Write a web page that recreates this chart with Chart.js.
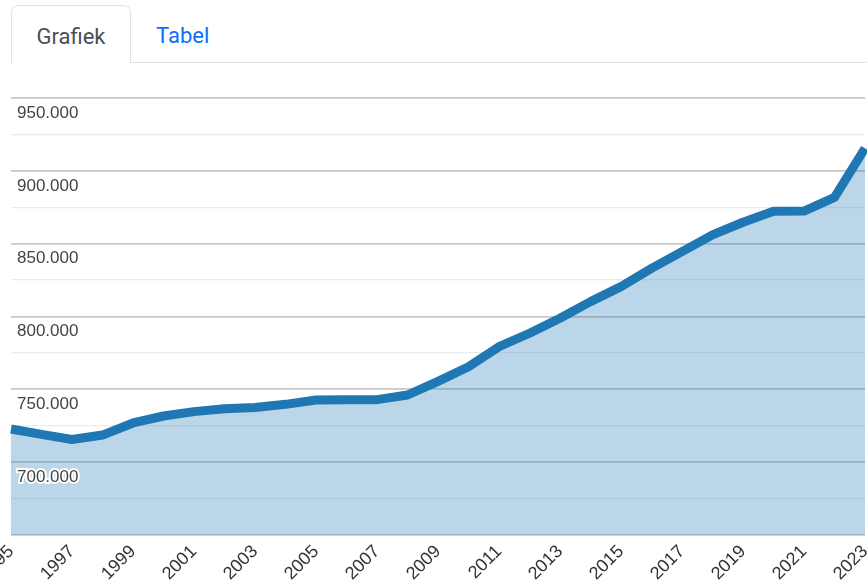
<!DOCTYPE html>
<html lang="nl">
<head>
    <meta charset="UTF-8">
    <title>Grafiek</title>
    <script src="https://cdn.jsdelivr.net/npm/chart.js"></script>
    <style>
        html, body { margin: 0; padding: 0; background: #fff; width: 867px; height: 583px; overflow: hidden; }
        .tabs { position: absolute; left: 11px; top: 5px; right: 0; height: 57px; border-bottom: 1px solid #dee2e6; font-family: "Roboto", "Liberation Sans", sans-serif; font-size: 22px; }
        .tab { position: absolute; top: 0; height: 57px; line-height: 62px; box-sizing: border-box; }
        .tab.active { left: 0; width: 120px; height: 58px; border: 1px solid #dee2e6; border-bottom: none; border-radius: 7px 7px 0 0; background: #fff; color: #495057; text-align: center; }
        .tab.link { left: 145px; color: #0d6efd; }
        .wrap { position: absolute; left: 0; top: 90px; width: 867px; height: 493px; }
    </style>
</head>
<body>
    <div class="tabs">
        <div class="tab active">Grafiek</div>
        <div class="tab link">Tabel</div>
    </div>
    <div class="wrap">
        <canvas id="myChart"></canvas>
    </div>
    <script>
        // jaren en waarden
        const years = ['1995', '1996', '1997', '1998', '1999', '2000', '2001', '2002', '2003', '2004',
                       '2005', '2006', '2007', '2008', '2009', '2010', '2011', '2012', '2013', '2014',
                       '2015', '2016', '2017', '2018', '2019', '2020', '2021', '2022', '2023'];
        const values = [722800, 719100, 715600, 718600, 726900, 731700, 734700, 736700, 737500, 739700,
                        742700, 742900, 742900, 746100, 755500, 765500, 779300, 788500, 798800, 810200,
                        820500, 833000, 844500, 856000, 864700, 872200, 872400, 881800, 915500];
        const yMin = 650000;
        const yMax = 950000;
        const yStep = 25000;

        function fmt(v) {
            return String(v).replace(/\B(?=(\d{3})+(?!\d))/g, '.');
        }

        const data = {
            labels: years,
            datasets: [{
                data: values,
                borderColor: '#1f77b4',
                backgroundColor: 'rgba(31, 119, 180, 0.3)',
                borderWidth: 9,
                borderJoinStyle: 'round',
                fill: 'start',
                pointRadius: 0,
                tension: 0
            }]
        };

        const config = {
            type: 'line',
            data: data,
            options: {
                responsive: false,
                animation: false,
                layout: { padding: { top: 8, left: 11, right: 2, bottom: 0 } },
                plugins: { legend: { display: false }, tooltip: { enabled: false } },
                scales: {
                    x: {
                        grid: { display: false, drawTicks: false },
                        border: { display: false },
                        ticks: {
                            autoSkip: false,
                            maxRotation: 45,
                            minRotation: 45,
                            padding: 6,
                            color: '#333',
                            font: { family: 'Liberation Sans, Arial, sans-serif', size: 18 },
                            callback: function (val, i) { return i % 2 === 0 ? years[i] : ''; }
                        },
                        afterFit: function (scale) {
                            scale.height = 48;
                            scale.paddingLeft = 0;
                            scale.paddingRight = 0;
                        }
                    },
                    y: {
                        min: yMin,
                        max: yMax,
                        grid: {
                            drawTicks: false,
                            color: ctx => ctx.tick && ctx.tick.value % 50000 === 0 ? '#c8c8c8' : '#ebebeb',
                            lineWidth: ctx => ctx.tick && ctx.tick.value % 50000 === 0 ? 1.8 : 1.3
                        },
                        border: { display: false },
                        ticks: {
                            stepSize: yStep,
                            mirror: true,
                            padding: 6,
                            labelOffset: 15,
                            z: 1,
                            color: '#444',
                            textStrokeColor: '#fff',
                            textStrokeWidth: 4,
                            font: { family: 'Liberation Sans, Arial, sans-serif', size: 17 },
                            callback: function (v) {
                                return (v % 50000 === 0 && v > yMin) ? fmt(v) : '';
                            }
                        },
                        afterFit: function (scale) {
                            scale.width = 0;
                            scale.paddingTop = 0;
                            scale.paddingBottom = 0;
                        }
                    }
                }
            }
        };

        const ctx = document.getElementById('myChart');
        ctx.width = 867;
        ctx.height = 493;
        const myChart = new Chart(ctx, config);
    </script>
</body>
</html>
